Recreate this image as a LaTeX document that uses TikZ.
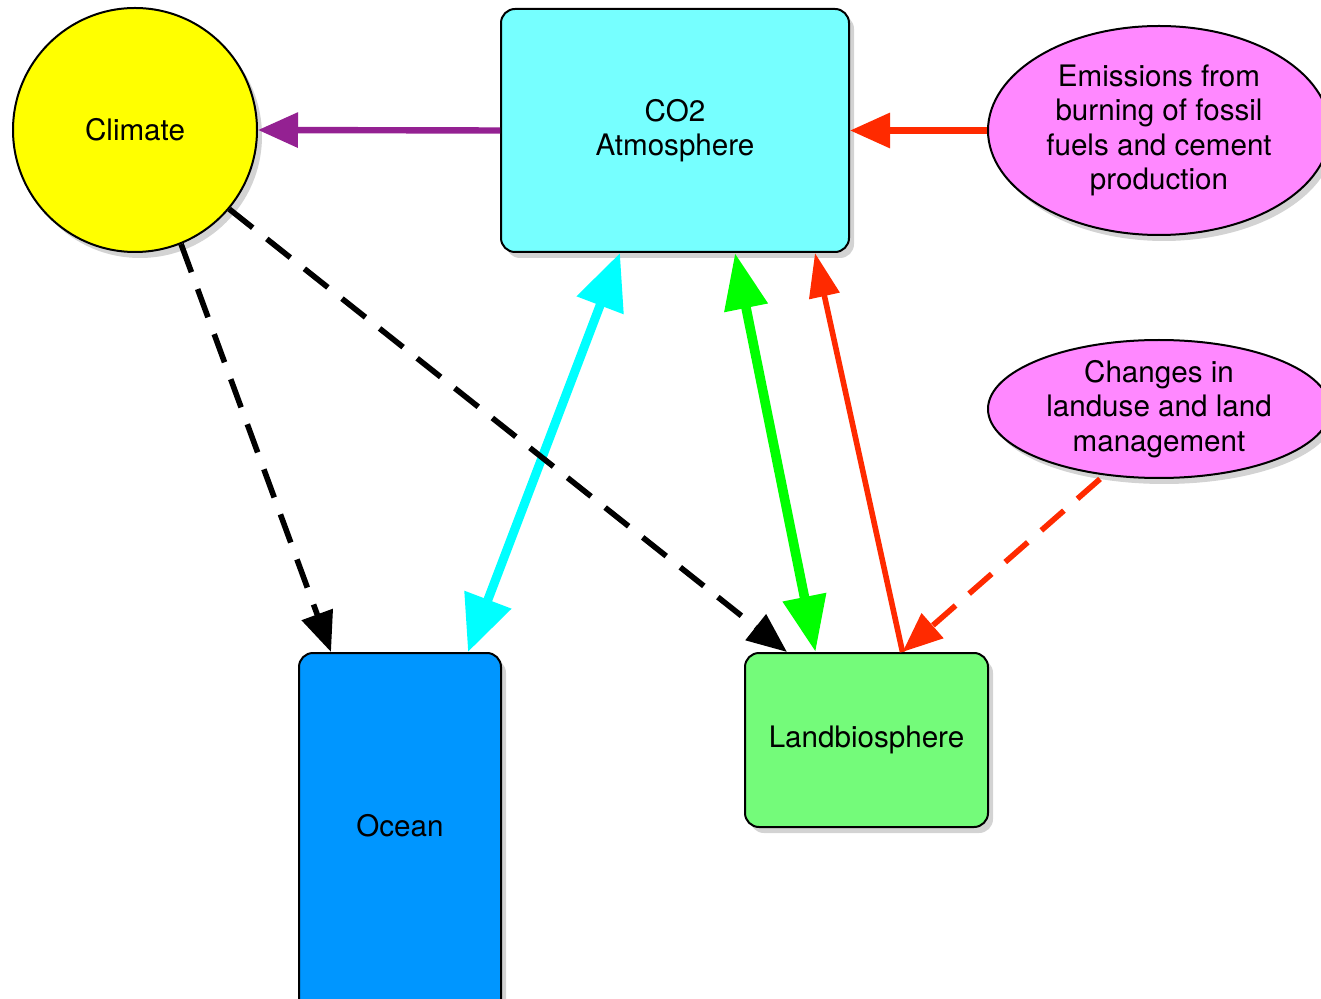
\documentclass[tikz,border=0pt]{standalone}
\usepackage{fontspec}
\setmainfont{TeX Gyre Heros}
\usepackage{xcolor}
\usepackage{tikz}
\usetikzlibrary{positioning}
\usetikzlibrary{arrows.meta,shapes,shadows}

\definecolor{atmoscol}{HTML}{76FFFF}
\definecolor{oceancol}{HTML}{0096FF}
\definecolor{landcol}{HTML}{74FB7A}
\definecolor{emiscol}{HTML}{FF88FF}
\definecolor{purplecol}{HTML}{942192}
\definecolor{redcol}{HTML}{FF2A00}
\definecolor{cyancol}{HTML}{00FFFF}
\definecolor{greencol}{HTML}{00FF00}
\definecolor{yellowcol}{HTML}{FFFF00}

\tikzset{
  box/.style={draw=black,line width=1pt,rounded corners=7pt,align=center,
    drop shadow={shadow xshift=2.5pt,shadow yshift=-3pt,opacity=0.35}},
  blob/.style={ellipse,draw=black,line width=1pt,align=center,inner sep=0pt,
    drop shadow={shadow xshift=2.5pt,shadow yshift=-3pt,opacity=0.35}},
  dashflow/.style={line width=2.8pt,dash pattern=on 15pt off 9pt,
    -{Triangle[length=20pt,width=16pt]}}
}

\begin{document}
\begin{tikzpicture}[x=0.5pt,y=-0.5pt,font=\fontsize{14.8}{17.25}\selectfont]
  \useasboundingbox (0,0) rectangle (1321,999);
  \node[circle,draw=black,line width=1pt,fill=yellowcol,minimum size=122pt,
    drop shadow={shadow xshift=2.5pt,shadow yshift=-3pt,opacity=0.35}] (climate) at (135,130) {Climate};
  \node[box,fill=atmoscol,minimum width=174pt,minimum height=121.5pt] (atmos) at (675,130.5) {CO2\\Atmosphere};
  \node[blob,fill=emiscol,minimum width=171pt,minimum height=104.5pt] (emis) at (1159,130.5) {Emissions from\\burning of fossil\\fuels and cement\\production};
  \node[blob,fill=emiscol,minimum width=171pt,minimum height=69pt] (landuse) at (1159,409) {Changes in\\landuse and land\\management};
  \node[box,fill=oceancol,minimum width=101pt,minimum height=183pt] (ocean) at (400,836) {};
  \node (oceantext) at (400,826) {Ocean};
  \node[box,fill=landcol,minimum width=121.5pt,minimum height=87pt] (land) at (866.5,740) {Landbiosphere};

  \draw[purplecol,line width=3.2pt,-{Triangle[length=20pt,width=17pt]}] (atmos.west) -- (climate.east);
  \draw[redcol,line width=3.2pt,-{Triangle[length=20pt,width=17pt]}] (emis.west) -- (atmos.east);
  \draw[cyancol,line width=4.5pt,{Triangle[length=28pt,width=24pt]}-{Triangle[length=28pt,width=24pt]}]
    ([xshift=-27.5pt]atmos.south) -- ([xshift=34pt]ocean.north);
  \draw[greencol,line width=4.8pt,{Triangle[length=28pt,width=21pt]}-{Triangle[length=28pt,width=21pt]}]
    ([xshift=30pt]atmos.south) -- ([xshift=-25.5pt]land.north);
  \draw[redcol,line width=2.8pt,-{Triangle[length=22pt,width=15pt]}] ([xshift=18pt]land.north) -- ([xshift=70pt]atmos.south);
  \draw[dashflow,redcol] ([xshift=-29.5pt]landuse.south) -- ([xshift=18pt]land.north);
  \draw[dashflow] (climate.-68) -- ([xshift=16.5pt]ocean.north west);
  \draw[dashflow] (climate.-40) -- ([xshift=21.5pt]land.north west);
\end{tikzpicture}
\end{document}
